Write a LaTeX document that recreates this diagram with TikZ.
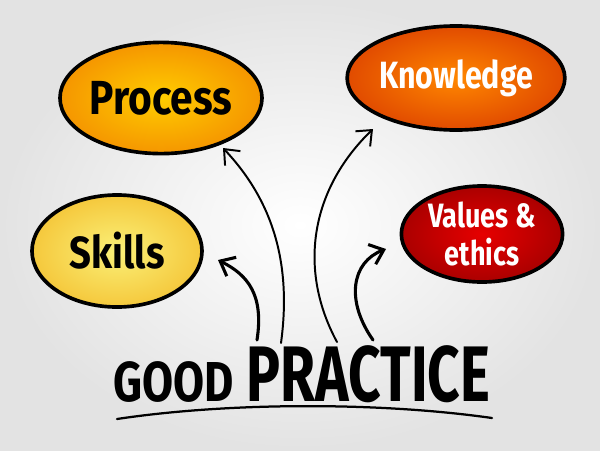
\documentclass[tikz,border=0pt]{standalone}
\usepackage{fontspec}
\setmainfont{Fira Sans}
\usepackage{graphicx}
\usepackage{tikz}
\usetikzlibrary{
    positioning,
    arrows.meta,
    shapes.geometric
}
\definecolor{procIn}{RGB}{255, 205, 0}
\definecolor{procOut}{RGB}{245, 150, 0}
\definecolor{knowIn}{RGB}{255, 135, 0}
\definecolor{knowOut}{RGB}{225, 75, 0}
\definecolor{skillIn}{RGB}{250, 240, 120}
\definecolor{skillOut}{RGB}{245, 200, 60}
\definecolor{valIn}{RGB}{230, 0, 0}
\definecolor{valOut}{RGB}{170, 0, 0}
\newcommand{\narrow}[2]{\scalebox{#1}[1]{#2}}

\begin{document}
\begin{tikzpicture}[x=0.025cm, y=-0.025cm,
    bubble/.style={ellipse, draw=black, line width=2.6pt, inner sep=0pt, align=center},
    hand/.style={-{Straight Barb[length=9pt, width=15pt]}, line cap=round}]
    % background
    \fill[inner color=white, outer color=gray!22] (0,0) rectangle (600,450);
    \useasboundingbox (0,0) rectangle (600,450);

    % bubbles
    \node[bubble, inner color=procIn, outer color=procOut, minimum width=5.05cm, minimum height=2.78cm,
        font=\bfseries\fontsize{34}{36}\selectfont] (process) at (161,98) {\narrow{0.85}{Process}};
    \node[bubble, inner color=knowIn, outer color=knowOut, minimum width=4.3cm, minimum height=2.6cm,
        text=white, font=\bfseries\fontsize{27}{29}\selectfont] (know) at (456,78) {\narrow{0.8}{Knowledge}};
    \node[bubble, inner color=skillIn, outer color=skillOut, minimum width=4.25cm, minimum height=2.8cm,
        font=\bfseries\fontsize{32}{34}\selectfont] (skills) at (117,251) {\narrow{0.85}{Skills}};
    \node[bubble, inner color=valIn, outer color=valOut, minimum width=4.03cm, minimum height=2.4cm,
        text=white, font=\bfseries\fontsize{24}{27}\selectfont] (values) at (482,234)
        {\narrow{0.8}{Values \&}\\\narrow{0.8}{ethics}};

    % title
    \node[anchor=base, font=\bfseries] (good) at (302,401)
        {\narrow{0.8}{\fontsize{40}{40}\selectfont GOOD}\hspace{9pt}\narrow{0.72}{\fontsize{56}{56}\selectfont PRACTICE}};
    \coordinate (lineL) at (117,419);
    \coordinate (lineR) at (492,418);
    \draw[line width=1.6pt, line cap=round] (lineL) .. controls (230,402) and (380,402) .. (lineR);

    % arrows
    \coordinate (sS) at (257,340);
    \coordinate (sP) at (281,343);
    \coordinate (sK) at (337,342);
    \coordinate (sV) at (373,340);
    \coordinate (tS) at (218,260);
    \coordinate (tP) at (223,148);
    \coordinate (tK) at (373,129);
    \coordinate (tV) at (386,249);
    \draw[hand, line width=2.2pt] (sS) .. controls (264,295) and (248,275) .. (tS);
    \draw[hand, line width=1.4pt] (sP) .. controls (292,262) and (272,200) .. (tP);
    \draw[hand, line width=1.4pt] (sK) .. controls (298,270) and (310,190) .. (tK);
    \draw[hand, line width=2.2pt] (sV) .. controls (345,300) and (352,262) .. (tV);
\end{tikzpicture}
\end{document}
